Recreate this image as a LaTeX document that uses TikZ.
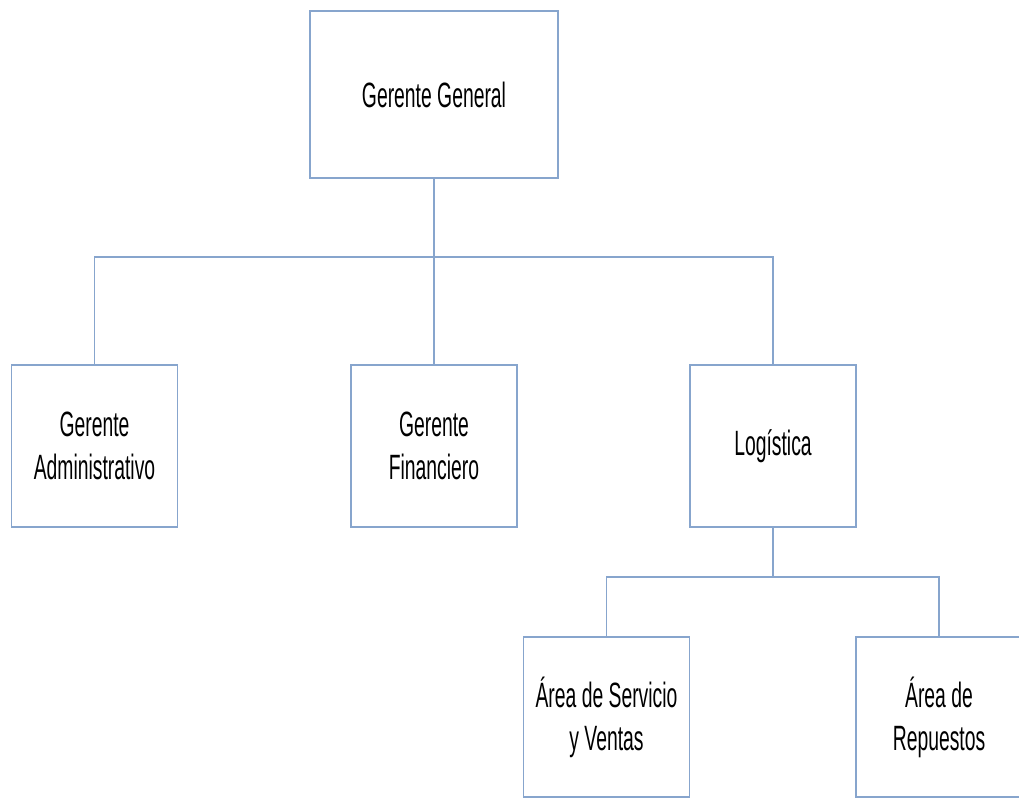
\documentclass[tikz,border=0pt]{standalone}
\usepackage{fontspec}
\setmainfont{Liberation Sans}[FakeStretch=0.55]
\definecolor{boxline}{RGB}{135,165,205}
\begin{document}
\begin{tikzpicture}[x=0.025cm,y=-0.025cm,thick,
    org node/.style={rectangle,draw=boxline,line width=0.9pt,align=center,
        minimum width=4.15cm,minimum height=4.05cm,inner sep=0pt,
        font=\fontsize{25}{30.5}\selectfont},
    link/.style={draw=boxline,line width=0.9pt}]
    \useasboundingbox (0,0) rectangle (1019,801);
    \clip (0,0) rectangle (1019,801);
                \node[org node,minimum width=6.2cm,minimum height=4.18cm] at (434,94.5) (gg) {Gerente General};
                \node[org node] at (94.5,446) (adm) {Gerente\\Administrativo};
                \node[org node] at (434,446) (fin) {Gerente\\Financiero};
                \node[org node] at (773,446) (log) {Logística};
                \node[org node,minimum height=4cm] at (606.5,717) (serv) {Área de Servicio\\y Ventas};
                \node[org node,minimum height=4cm] at (939,717) (rep) {Área de\\Repuestos};

                \coordinate (top bus) at (434,257);
                \coordinate (log bus) at (773,577);

                \path[link]
                    (gg.south) -- (fin.north)
                    (top bus) -| (adm.north)
                    (top bus) -| (log.north)
                    (log.south) -- (log bus)
                    (log bus) -| (serv.north)
                    (log bus) -| (rep.north)
                    ;
            \end{tikzpicture}
\end{document}
